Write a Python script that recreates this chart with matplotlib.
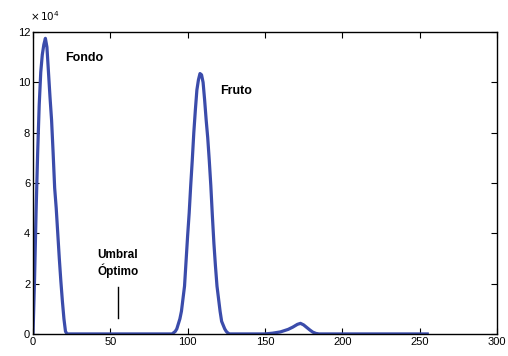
import matplotlib
matplotlib.use("Agg")
import matplotlib.pyplot as plt

plt.rcParams['font.family'] = ['Liberation Sans', 'DejaVu Sans']

# Histogram samples (gray level, count in units of 1e4)
fondo_x = list(range(0, 23))
fondo_y = [0, 2.2, 4.9, 7.2, 9.1, 10.4, 11.1, 11.5, 11.75, 11.4, 10.4, 9.4, 8.5, 7.2, 5.8,
           5.0, 4.0, 3.0, 2.1, 1.3, 0.6, 0.1, 0]
fruto_x = list(range(90, 128))
fruto_y = [0, 0.05, 0.1, 0.2, 0.4, 0.6, 0.9, 1.4, 1.9, 2.9, 3.9, 4.8, 5.9, 6.9, 8.0, 8.9,
           9.7, 10.1, 10.35, 10.3, 10.0, 9.3, 8.5, 7.8, 6.9, 5.9, 4.7, 3.6, 2.7, 1.9, 1.4,
           0.9, 0.5, 0.35, 0.2, 0.1, 0.04, 0]
bump_x = [150, 155, 160, 165, 168, 171, 173, 175, 177, 179, 181, 183, 185, 255]
bump_y = [0, 0.03, 0.08, 0.18, 0.27, 0.38, 0.42, 0.36, 0.26, 0.16, 0.07, 0.02, 0, 0]

x_vals = fondo_x + fruto_x + bump_x
y_vals = fondo_y + fruto_y + bump_y

x_ticks = [0, 50, 100, 150, 200, 250, 300]
y_ticks = [0, 2, 4, 6, 8, 10, 12]
threshold = 55
labels = ["Fondo", "Fruto", "Umbral\nÓptimo"]

fig = plt.figure(figsize=(5.08, 3.56), dpi=100)
ax = fig.add_axes([0.065, 0.062, 0.913, 0.848])
ax.plot(x_vals, [v * 1e4 for v in y_vals], color='#3b4cab', linewidth=2.3)
ax.set_xlim(0, 300)
ax.set_ylim(0, 12e4)
ax.set_xticks(x_ticks)
ax.set_yticks([t * 1e4 for t in y_ticks])
ax.set_xticklabels([str(t) for t in x_ticks])
ax.set_yticklabels([str(t) for t in y_ticks])
ax.tick_params(direction='in', top=True, right=True, labelsize=8, length=4, pad=2)
for s in ax.spines.values():
    s.set_linewidth(1.0)

ax.text(21, 10.95e4, labels[0], fontsize=9, fontweight='bold', ha='left', va='center')
ax.text(121, 9.65e4, labels[1], fontsize=9, fontweight='bold', ha='left', va='center')
ax.text(threshold, 2.8e4, labels[2], fontsize=8.5, fontweight='bold', ha='center', va='center',
        linespacing=1.2)
ax.plot([threshold, threshold], [0.65e4, 1.85e4], color='black', linewidth=1.0)

fig.text(0.06, 0.935, r'$\times\,10^{4}$', fontsize=7.5, ha='left', va='bottom')

fig.savefig('out.png', dpi=100)
